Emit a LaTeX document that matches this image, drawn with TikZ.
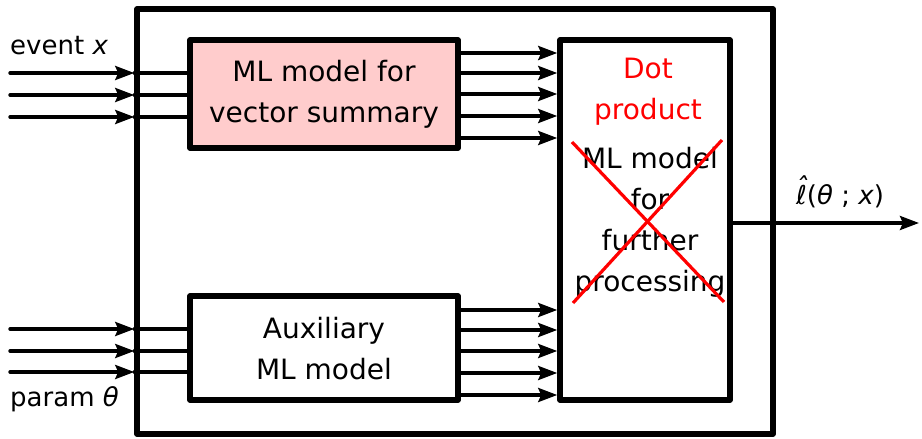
\documentclass[tikz,border=0pt]{standalone}
\usepackage{fontspec}
\setmainfont{DejaVu Sans}
\usetikzlibrary{arrows.meta}
\newcommand{\hatell}{\ooalign{ℓ\cr\hidewidth\raisebox{0.28em}{ˆ}\hidewidth}}
\tikzset{
  box/.style={draw=black, line width=5.5pt, line join=round, inner sep=0pt},
  flow/.style={line width=3.4pt, line cap=round,
    -{Stealth[length=19pt,width=14pt,inset=3pt]}},
  link/.style={line width=3.4pt, line cap=round},
  cross/.style={draw=red, line width=3.2pt},
  txt/.style={font=\fontsize{28}{41}\selectfont, align=center, inner sep=0pt},
  lbl/.style={font=\fontsize{26}{30}\selectfont, inner sep=0pt, anchor=west},
}
\begin{document}
\begin{tikzpicture}[x=1pt,y=-1pt]
\useasboundingbox (0,0) rectangle (922,439);
% enclosing system
\node[box, minimum width=636pt, minimum height=425pt] (outer) at (455,221.5) {};
% inner blocks
\node[box, fill={rgb,255:red,255;green,204;blue,204}, minimum width=268pt, minimum height=108pt] (summ) at (324,94) {};
\node[box, minimum width=268pt, minimum height=104pt] (aux) at (324,348) {};
\node[box, minimum width=170pt, minimum height=360pt] (dot) at (645,220) {};
% block texts
\node[txt] (summtxt) at (324,94) {ML model for\\vector summary};
\node[txt] (auxtxt) at (324,349) {Auxiliary\\ML model};
\node[txt, text=red] (dottxt) at (648,92) {Dot\\product};
\node[txt] (mltxt) at (650,222) {ML model\\for\\further\\processing};
% crossed-out alternative
\draw[cross] (572,142) -- (724,302);
\draw[cross] (722,140) -- (573,303);
% event inputs
\foreach \y [count=\i] in {73,95,117} {
  \coordinate (ev\i) at (10,\y);
  \draw[flow] (ev\i) -- (ev\i -| outer.west);
  \draw[link] (ev\i -| outer.west) -- (ev\i -| summ.west);
}
% parameter inputs
\foreach \y [count=\i] in {329,351,372} {
  \coordinate (pa\i) at (10,\y);
  \draw[flow] (pa\i) -- (pa\i -| outer.west);
  \draw[link] (pa\i -| outer.west) -- (pa\i -| aux.west);
}
% summary vector components
\foreach \y [count=\i] in {53,73,94,116,138} {
  \coordinate (sv\i) at (0,\y);
  \draw[flow] (sv\i -| summ.east) -- (sv\i -| dot.west);
}
% auxiliary vector components
\foreach \y [count=\i] in {310,330,351,373,395} {
  \coordinate (av\i) at (0,\y);
  \draw[flow] (av\i -| aux.east) -- (av\i -| dot.west);
}
% output
\coordinate (out) at (919,223);
\draw[flow] (out -| dot.east) -- (out);
% labels
\node[lbl] (evlbl) at (10,46) {event \textit{x}};
\node[lbl] (palbl) at (10,399) {param \textit{θ}};
\node[lbl] (outlbl) at (796,196) {\textit{\hatell}(\textit{θ} ; \textit{x})};
\end{tikzpicture}
\end{document}
